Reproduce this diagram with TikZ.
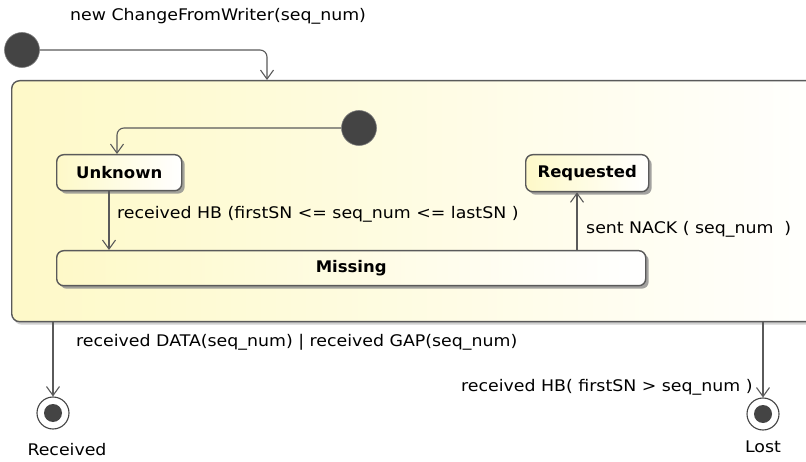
\documentclass[tikz,border=0pt]{standalone}
\usepackage{fontspec}
\setmainfont{DejaVu Sans}
\newfontfamily\lblfont{DejaVu Sans}[FakeStretch=1.085]
\newfontfamily\stfont{DejaVu Sans}[FakeStretch=1.03]
\usetikzlibrary{arrows.meta,shadows}
\definecolor{lineg}{HTML}{5A5A5A}
\definecolor{dotg}{HTML}{444444}
\definecolor{stfill}{HTML}{FEF9C8}
\tikzset{
  lbl/.style={inner sep=0pt,font=\lblfont\fontsize{16}{18}\selectfont,text=black},
  stname/.style={font=\stfont\fontsize{16}{18}\selectfont\bfseries},
  statebox/.style={draw=lineg,line width=1.4pt,rounded corners=7pt,
    left color=stfill,right color=white,
    drop shadow={shadow xshift=3pt,shadow yshift=-3pt,fill=black!45,opacity=0.8},
    inner sep=0pt,anchor=north west,stname},
  initdot/.style={circle,fill=dotg,draw=dotg!70!white,line width=0.6pt,minimum size=35pt,inner sep=0pt},
  conn/.style={draw=lineg,line width=1.1pt,-{Straight Barb[length=9pt,width=13pt,line width=1.1pt]},rounded corners=7pt},
  finalout/.style={circle,draw=dotg,line width=1.1pt,fill=white,minimum size=32pt,inner sep=0pt},
  finalin/.style={circle,fill=dotg,minimum size=18pt,inner sep=0pt}
}
\begin{document}
\begin{tikzpicture}[x=1pt,y=-1pt]
\useasboundingbox (0,0) rectangle (806,462);
\clip (0,0) rectangle (806,462);
\fill[white] (0,0) rectangle (806,462);
% composite state
\node[draw=lineg,line width=1.4pt,rounded corners=8pt,left color=stfill,right color=white,
  drop shadow={shadow xshift=2pt,shadow yshift=-3pt,fill=black!30,opacity=0.6},
  anchor=north west,minimum width=830pt,minimum height=241pt,inner sep=0pt] (comp) at (11,80) {};
% initial states
\node[initdot] (init) at (22,50) {};
\node[initdot] (init2) at (359,128) {};
% states
\node[statebox,minimum width=125pt,minimum height=36pt] (unknown) at (56,154) {Unknown};
\node[statebox,minimum width=123pt,minimum height=37pt] (requested) at (525,154) {Requested};
\node[statebox,minimum width=589pt,minimum height=35pt] (missing) at (56,250) {Missing};
% final states
\node[finalout] (recv) at (53,413) {};
\node[finalin] (recvdot) at (recv) {};
\node[finalout] (lost) at (763,414) {};
\node[finalin] (lostdot) at (lost) {};
\node[lbl] (recvl) at (67,450) {Received};
\node[lbl] (lostl) at (763,447) {Lost};
% helper coordinates for vertical connector positions
\coordinate (x1) at (267,0);
\coordinate (x2) at (117,0);
\coordinate (x3) at (109,0);
\coordinate (x4) at (577,0);
\coordinate (x5) at (53,0);
\coordinate (x6) at (763,0);
% connectors
\draw[conn] (init.east) -| (comp.north -| x1);
\draw[conn] (init2.west) -| (unknown.north -| x2);
\draw[conn] (unknown.south -| x3) -- (missing.north -| x3);
\draw[conn] (missing.north -| x4) -- (requested.south -| x4);
\draw[conn] (comp.south -| x5) -- (recv.north);
\draw[conn] (comp.south -| x6) -- (lost.north);
% labels
\node[lbl,anchor=west] (l1) at (70,16) {new ChangeFromWriter(seq\_num)};
\node[lbl,anchor=west] (l2) at (117,214) {received HB (firstSN <= seq\_num <= lastSN )};
\node[lbl,anchor=west] (l3) at (586,229) {sent NACK ( seq\_num \ )};
\node[lbl,anchor=west] (l4) at (76,342) {received DATA(seq\_num) | received GAP(seq\_num)};
\node[lbl,anchor=west] (l5) at (461,387) {received HB( firstSN > seq\_num )};
\end{tikzpicture}
\end{document}
